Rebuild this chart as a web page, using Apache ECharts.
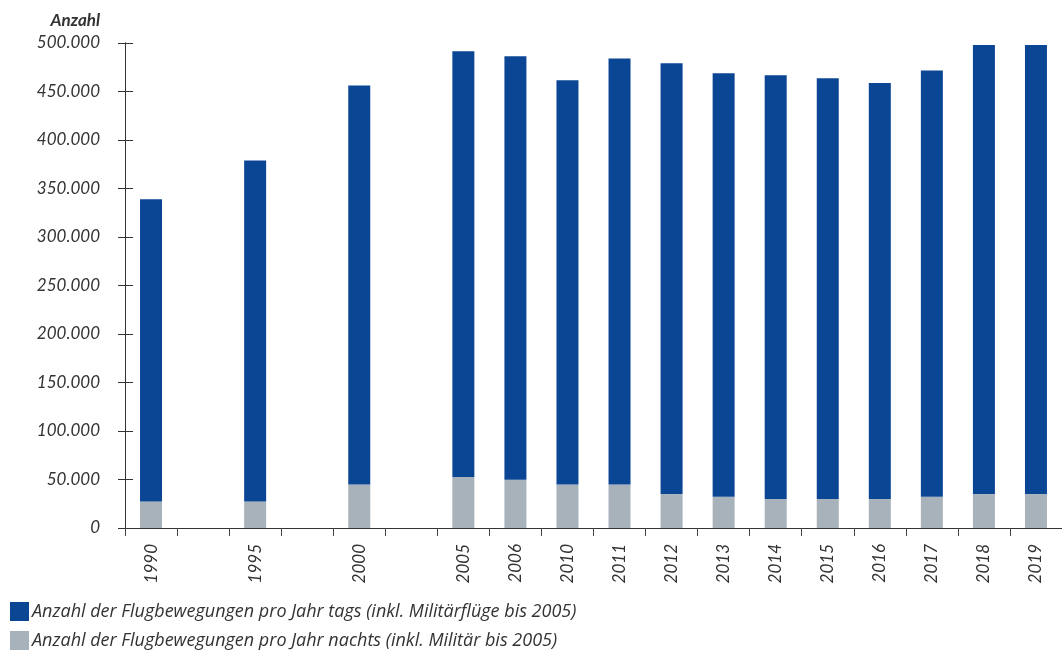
<!DOCTYPE html>
<html><head><meta charset="utf-8">
<script src="https://cdn.jsdelivr.net/npm/echarts@6/dist/echarts.min.js"></script>
<style>html,body{margin:0;padding:0;background:#fff}#c{width:1062px;height:653px}</style>
</head><body><div id="c"></div>
<script>
const categories = ['1990','','1995','','2000','','2005','2006','2010','2011','2012','2013','2014','2015','2016','2017','2018','2019'];
const nachts = [27400,null,27400,null,44900,null,52500,49700,44900,44900,35000,32200,29900,29900,29900,32200,35000,35000];
const tags   = [311600,null,351500,null,411200,null,439000,436600,416700,439000,444100,436600,436800,433700,428900,439400,462900,462900];
const yTicks = [0,50000,100000,150000,200000,250000,300000,350000,400000,450000,500000];
const nameTags = 'Anzahl der Flugbewegungen pro Jahr tags (inkl. Militärflüge bis 2005)';
const nameNachts = 'Anzahl der Flugbewegungen pro Jahr nachts (inkl. Militär bis 2005)';

const FONT = 'Lato';
const fmt = v => v === 0 ? '0' : String(v).replace(/\B(?=(\d{3})+(?!\d))/g, '.');
const chart = echarts.init(document.getElementById('c'));
const yBase = {
  type: 'value', min: yTicks[0], max: yTicks[yTicks.length-1], interval: 50000,
  position: 'left',
  splitLine: {show: false},
  axisLine: {show: true, lineStyle: {color: '#333', width: 1}}
};
const legendBase = {
  orient: 'horizontal', left: 10, padding: 0,
  itemWidth: 19, itemHeight: 19, icon: 'rect',
  textStyle: {fontFamily: 'Open Sans', fontStyle: 'italic', fontSize: 18, color: '#333', padding: [0,0,0,-2]}
};
chart.setOption({
  animation: false,
  textStyle: {fontFamily: FONT},
  grid: {left: 125, top: 43, bottom: 125, right: -6, containLabel: false},
  legend: [
    Object.assign({}, legendBase, {top: 602, data: [nameTags]}),
    Object.assign({}, legendBase, {top: 631, data: [nameNachts]})
  ],
  xAxis: {
    type: 'category', data: categories,
    axisLine: {show: true, lineStyle: {color: '#333', width: 1}},
    axisTick: {show: true, alignWithLabel: false, interval: 0, length: 8, lineStyle: {color: '#444'}},
    axisLabel: {interval: 0, rotate: 90, margin: 16, fontFamily: FONT, fontStyle: 'italic', fontSize: 17, color: '#333'}
  },
  yAxis: [
    Object.assign({}, yBase, {
      name: 'Anzahl', nameLocation: 'end', nameGap: 14,
      nameTextStyle: {fontFamily: FONT, fontStyle: 'italic', fontWeight: 'bold', fontSize: 17, color: '#333', align: 'right', padding: [0, 25, 0, 0]},
      axisTick: {show: true, length: 7, lineStyle: {color: '#333'}},
      axisLabel: {margin: 25, formatter: fmt, fontFamily: FONT, fontStyle: 'italic', fontSize: 17, color: '#333'}
    }),
    Object.assign({}, yBase, {
      axisTick: {show: true, inside: true, length: 8, lineStyle: {color: '#333'}},
      axisLabel: {show: false}
    })
  ],
  series: [
    {name: nameNachts, type: 'bar', stack: 'a', data: nachts, barWidth: 22,
     itemStyle: {color: '#a8b2bb'}},
    {name: nameTags, type: 'bar', stack: 'a', data: tags, barWidth: 22,
     itemStyle: {color: '#0b4695'}}
  ]
});
</script></body></html>
